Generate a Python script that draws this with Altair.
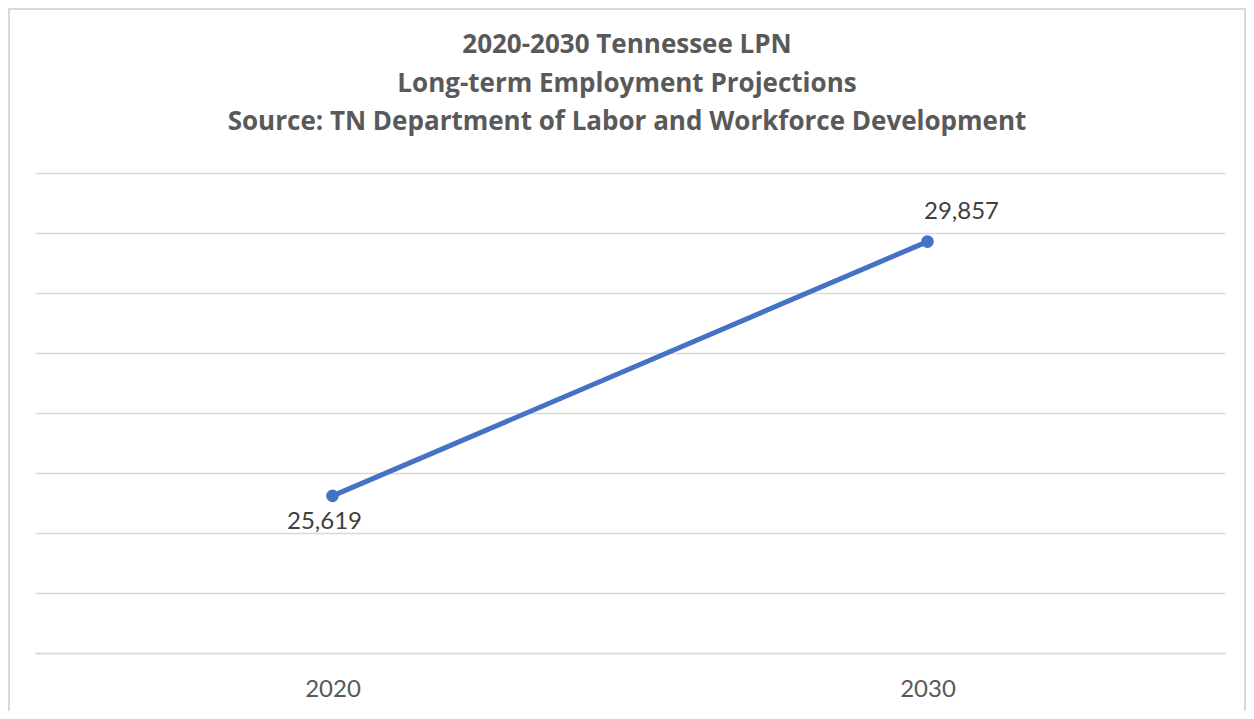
import altair as alt
import pandas as pd

years = ["2020", "2030"]
values = [25619, 29857]
labels = ["25,619", "29,857"]
title_lines = ["2020-2030 Tennessee LPN", "Long-term Employment Projections",
               "Source: TN Department of Labor and Workforce Development"]

df = pd.DataFrame({"year": years, "value": values, "label": labels})

W, H = 1190, 480
PL, PT, PR, PB = 27, 165, 21, 58

x = alt.X("year:N", title=None, sort=years,
          scale=alt.Scale(type="point", padding=0.5),
          axis=alt.Axis(labelAngle=0, labelFont="Lato", labelFontSize=24, labelColor="#595959",
                        labelPadding=24, ticks=False, domain=True, domainColor="#d9d9d9",
                        domainWidth=1.3, grid=False))
y = alt.Y("value:Q", title=None,
          scale=alt.Scale(domain=[23000, 31000], nice=False, zero=False),
          axis=alt.Axis(values=list(range(23000, 31001, 1000)), labels=False, ticks=False,
                        domain=False, grid=True, gridColor="#d9d9d9", gridWidth=1.3))

base = alt.Chart(df)

border = base.mark_rect(fill=None, stroke="#d9d9d9", strokeWidth=2).encode(
    x=alt.value(-PL + 1), x2=alt.value(W + PR - 1),
    y=alt.value(-PT + 1), y2=alt.value(H + PB + 20),
)

title = alt.Chart(pd.DataFrame({"t": [0]})).mark_text(
    text=title_lines, font="Open Sans", fontSize=26, fontWeight="bold", color="#595959",
    lineHeight=38.5, baseline="alphabetic", align="center",
).encode(x=alt.value(W / 2 - 3), y=alt.value(-120))

line = base.mark_line(color="#4472C4", strokeWidth=5).encode(x=x, y=y)
pts = base.mark_circle(color="#4472C4", size=160, opacity=1).encode(x=x, y=y)

lab_low = base.transform_filter(alt.datum.year == "2020").mark_text(
    font="Lato", fontSize=24, color="#404040", dx=-8, dy=26).encode(x=x, y=y, text="label:N")
lab_high = base.transform_filter(alt.datum.year == "2030").mark_text(
    font="Lato", fontSize=24, color="#404040", dx=34, dy=-30).encode(x=x, y=y, text="label:N")

chart = alt.layer(border, title, line, pts, lab_low, lab_high).properties(
    width=W, height=H,
    autosize=alt.AutoSizeParams(type="none"),
    padding={"left": PL, "top": PT, "right": PR, "bottom": PB},
).configure_view(stroke=None)

chart.save("out.html", embed_options={"renderer": "svg", "actions": False})
